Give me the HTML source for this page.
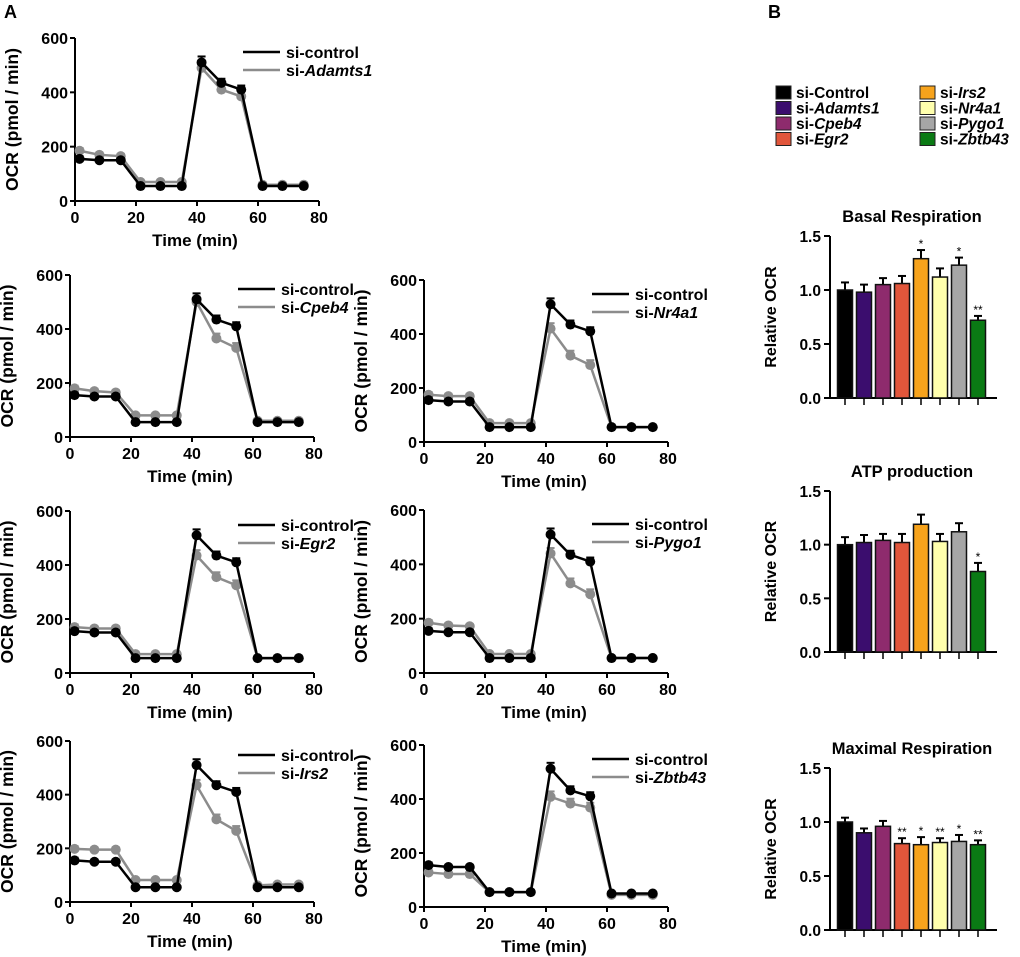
<!DOCTYPE html>
<html><head><meta charset="utf-8">
<style>
html,body{margin:0;padding:0;background:#fff;}
svg{display:block;font-family:"Liberation Sans",Arial,sans-serif;}
</style></head>
<body>
<svg id="fig" width="1020" height="957" viewBox="0 0 1020 957" xmlns="http://www.w3.org/2000/svg">
<text x="4" y="18" font-size="18" font-weight="bold">A</text>
<text x="768" y="18" font-size="18" font-weight="bold">B</text>
</svg>
<script>
const NS="http://www.w3.org/2000/svg";
const svg=document.getElementById('fig');
function mk(tag,attrs,parent,text){const e=document.createElementNS(NS,tag);for(const k in attrs)e.setAttribute(k,attrs[k]);if(text!==undefined)e.textContent=text;(parent||svg).appendChild(e);return e;}

// ---- Line chart data ----
const times=[1.5,8,15,21.5,28,35,41.5,48,54.5,61.5,68,75];
const xTicks=[0,20,40,60,80];
const yTicks=[0,200,400,600];
const controlOCR=[155,150,150,55,55,55,510,435,410,55,55,55];
const controlErr=[10,8,8,6,6,6,22,15,15,5,5,5];
const adamts1OCR=[185,170,165,70,70,70,490,410,385,60,60,60];
const cpeb4OCR=[180,170,165,80,80,80,500,365,330,60,60,60];
const nr4a1OCR=[175,170,170,70,70,70,420,320,285,55,55,55];
const egr2OCR=[170,165,165,70,70,70,435,355,325,55,55,55];
const pygo1OCR=[185,175,172,70,70,70,440,330,290,55,55,55];
const irs2OCR=[198,195,195,82,82,82,435,308,265,62,65,65];
const zbtb43OCR=[128,122,122,55,55,55,408,383,368,45,45,45];
const zbtb43Control=[155,148,148,55,55,55,512,432,410,50,50,50];
const geneErr=[10,8,8,6,6,6,20,18,18,5,5,5];

const panels=[
 {gene:'Adamts1',ctrl:controlOCR,kd:adamts1OCR,ax:75,ytop:38,ybot:201,xr:319},
 {gene:'Cpeb4',ctrl:controlOCR,kd:cpeb4OCR,ax:70,ytop:275,ybot:437,xr:314},
 {gene:'Nr4a1',ctrl:controlOCR,kd:nr4a1OCR,ax:424,ytop:280,ybot:442,xr:668},
 {gene:'Egr2',ctrl:controlOCR,kd:egr2OCR,ax:70,ytop:511,ybot:673,xr:314},
 {gene:'Pygo1',ctrl:controlOCR,kd:pygo1OCR,ax:424,ytop:510,ybot:673,xr:668},
 {gene:'Irs2',ctrl:controlOCR,kd:irs2OCR,ax:70,ytop:741,ybot:902,xr:314},
 {gene:'Zbtb43',ctrl:zbtb43Control,kd:zbtb43OCR,ax:424,ytop:745,ybot:907,xr:668}
];

panels.forEach(p=>{
 const g=mk('g',{});
 
 
 const X=v=>p.ax+(v/80)*(p.xr-p.ax);
 const Y=v=>p.ybot-(v/600)*(p.ybot-p.ytop);
 const ya=mk('line',{x1:p.ax,y1:p.ytop,x2:p.ax,y2:p.ybot,stroke:'#000','stroke-width':2},g);
 
 const xa=mk('line',{x1:p.ax,y1:p.ybot,x2:p.xr,y2:p.ybot,stroke:'#000','stroke-width':2},g);
 
 yTicks.forEach(t=>{
  mk('line',{x1:p.ax-5,y1:Y(t),x2:p.ax,y2:Y(t),stroke:'#000','stroke-width':2},g);
  const tl=mk('text',{x:p.ax-7,y:Y(t)+6,'font-size':16,'font-weight':'bold','text-anchor':'end'},g,String(t));
  
 });
 xTicks.forEach(t=>{
  mk('line',{x1:X(t),y1:p.ybot,x2:X(t),y2:p.ybot+5,stroke:'#000','stroke-width':2},g);
  const tl=mk('text',{x:X(t),y:p.ybot+22,'font-size':16,'font-weight':'bold','text-anchor':'middle'},g,String(t));
  
 });
 const xt=mk('text',{x:(p.ax+p.xr)/2-2,y:p.ybot+45,'font-size':17,'font-weight':'bold','text-anchor':'middle'},g,'Time (min)');
 
 const cy=(p.ytop+p.ybot)/2;
 const yt=mk('text',{x:p.ax-57,y:cy,'font-size':17.5,'font-weight':'bold','text-anchor':'middle',transform:`rotate(-90 ${p.ax-57} ${cy})`},g,'OCR (pmol / min)');
 
 [[p.kd,'#8c8c8c',geneErr,'series-si-'+p.gene.toLowerCase()],[p.ctrl,'#000',controlErr,'series-si-control']].forEach(([vals,col,err,name])=>{
  const sg=mk('g',{},g);
  
  mk('polyline',{points:vals.map((v,i)=>X(times[i])+','+Y(v)).join(' '),fill:'none',stroke:col,'stroke-width':2.5},sg);
  vals.forEach((v,i)=>{
   const x=X(times[i]);
   mk('line',{x1:x,y1:Y(v+err[i]),x2:x,y2:Y(v),stroke:col,'stroke-width':2},sg);
   mk('line',{x1:x-4,y1:Y(v+err[i]),x2:x+4,y2:Y(v+err[i]),stroke:col,'stroke-width':2},sg);
   const c=mk('circle',{cx:x,cy:Y(v),r:5,fill:col},sg);
   
  });
 });
 const lx=p.ax+168, ly=p.ytop+14;
 const lg=mk('g',{},g);
 
 mk('line',{x1:lx,y1:ly,x2:lx+37,y2:ly,stroke:'#000','stroke-width':2.5},lg);
 mk('text',{x:lx+43,y:ly+6,'font-size':16,'font-weight':'bold'},lg,'si-control');
 mk('line',{x1:lx,y1:ly+18,x2:lx+37,y2:ly+18,stroke:'#8c8c8c','stroke-width':2.5},lg);
 const t2=mk('text',{x:lx+43,y:ly+24,'font-size':16,'font-weight':'bold'},lg,'si-');
 mk('tspan',{'font-style':'italic'},t2,p.gene);
});

// ---- Bar chart data ----
const groups=['Control','Adamts1','Cpeb4','Egr2','Irs2','Nr4a1','Pygo1','Zbtb43'];
const colors=['#000000','#3b0d6e','#8e2b6d','#e1563b','#f7a31c','#ffffad','#a6a6a6','#0a7a14'];
const basalVals=[1.0,0.98,1.05,1.06,1.29,1.12,1.23,0.72];
const basalErr=[0.07,0.07,0.06,0.07,0.08,0.08,0.07,0.04];
const basalStars=['','','','','*','','*','**'];
const atpVals=[1.0,1.02,1.04,1.02,1.19,1.03,1.12,0.75];
const atpErr=[0.07,0.07,0.06,0.08,0.09,0.07,0.08,0.08];
const atpStars=['','','','','','','','*'];
const maxVals=[1.0,0.9,0.96,0.8,0.79,0.81,0.82,0.79];
const maxErr=[0.04,0.04,0.05,0.05,0.07,0.04,0.06,0.04];
const maxStars=['','','','**','*','**','*','**'];
const barTicks=[0.0,0.5,1.0,1.5];

const leg=mk('g',{});

groups.forEach((gname,i)=>{
 const col=i<4?0:1, row=i%4;
 const x=col?920:776, y=86+row*15.5;
 const e=mk('g',{},leg);
 
 mk('rect',{x:x,y:y,width:15,height:13,fill:colors[i],stroke:'#222','stroke-width':1},e);
 const t=mk('text',{x:x+20,y:y+12,'font-size':15.5,'font-weight':'bold'},e,'si-');
 if(gname==='Control') t.textContent='si-Control'; else mk('tspan',{'font-style':'italic'},t,gname);
});

const barCharts=[
 {title:'Basal Respiration',vals:basalVals,err:basalErr,stars:basalStars,ytop:236,ybot:398},
 {title:'ATP production',vals:atpVals,err:atpErr,stars:atpStars,ytop:491,ybot:652},
 {title:'Maximal Respiration',vals:maxVals,err:maxErr,stars:maxStars,ytop:768,ybot:930}
];
barCharts.forEach(b=>{
 const g=mk('g',{});
 
 
 const ax=830;
 const Y=v=>b.ybot-(v/1.5)*(b.ybot-b.ytop);
 const X=i=>845+i*19;
 const tt=mk('text',{x:912,y:b.ytop-14,'font-size':16.5,'font-weight':'bold','text-anchor':'middle'},g,b.title);
 
 mk('line',{x1:ax,y1:b.ytop,x2:ax,y2:b.ybot,stroke:'#000','stroke-width':2},g);
 mk('line',{x1:ax,y1:b.ybot,x2:997,y2:b.ybot,stroke:'#000','stroke-width':2},g);
 barTicks.forEach(t=>{
  mk('line',{x1:ax-6,y1:Y(t),x2:ax,y2:Y(t),stroke:'#000','stroke-width':2},g);
  const tl=mk('text',{x:ax-9,y:Y(t)+6,'font-size':15.5,'font-weight':'bold','text-anchor':'end'},g,t.toFixed(1));
  
 });
 const cy=(b.ytop+b.ybot)/2;
 const yt=mk('text',{x:ax-54,y:cy,'font-size':16,'font-weight':'bold','text-anchor':'middle',transform:`rotate(-90 ${ax-54} ${cy})`},g,'Relative OCR');
 
 b.vals.forEach((v,i)=>{
  const x=X(i);
  const ey=Y(v+b.err[i]);
  mk('line',{x1:x,y1:ey,x2:x,y2:Y(v),stroke:'#000','stroke-width':2},g);
  mk('line',{x1:x-4,y1:ey,x2:x+4,y2:ey,stroke:'#000','stroke-width':2},g);
  const r=mk('rect',{x:x-7.5,y:Y(v),width:15,height:b.ybot-Y(v),fill:colors[i],stroke:'#111','stroke-width':1.5},g);
  
  mk('line',{x1:x,y1:b.ybot,x2:x,y2:b.ybot+7,stroke:'#000','stroke-width':1.5},g);
  if(b.stars[i]){
   const s=mk('text',{x:x,y:ey-2,'font-size':12,'text-anchor':'middle'},g,b.stars[i]);
   
  }
 });
});
</script>
</body></html>
